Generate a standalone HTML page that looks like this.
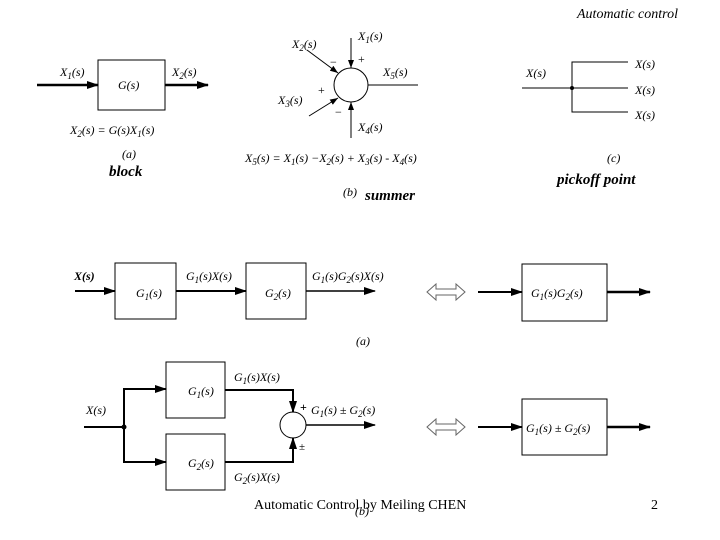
<!DOCTYPE html>
<html><head><meta charset="utf-8"><style>
html,body{margin:0;padding:0;background:#fff}
svg{display:block}
text{font-family:"Liberation Serif",serif;fill:#000}
.m{font-style:italic;font-size:12px}
.b{font-weight:bold;font-style:italic;font-size:15px}
</style></head><body>
<svg width="720" height="540" viewBox="0 0 720 540" xmlns="http://www.w3.org/2000/svg">
<defs>
<marker id="a" markerWidth="12" markerHeight="8" refX="11" refY="4" orient="auto" markerUnits="userSpaceOnUse"><path d="M0,0 L12,4 L0,8 Z"/></marker>
<marker id="s" markerWidth="8" markerHeight="6" refX="8" refY="3" orient="auto" markerUnits="userSpaceOnUse"><path d="M0,0 L8,3 L0,6 Z"/></marker>
</defs>
<text x="577" y="18" style="font-style:italic;font-size:14px">Automatic control</text>
<!-- block -->
<g stroke="#000" fill="none">
<rect x="98" y="60" width="67" height="50" stroke-width="1"/>
<line x1="37" y1="85" x2="98" y2="85" stroke-width="2.5" marker-end="url(#a)"/>
<line x1="165" y1="85" x2="208" y2="85" stroke-width="2.5" marker-end="url(#a)"/>
</g>
<text class="m" x="60" y="76">X<tspan font-size="9" dy="3">1</tspan><tspan dy="-3">(s)</tspan></text>
<text class="m" x="172" y="76">X<tspan font-size="9" dy="3">2</tspan><tspan dy="-3">(s)</tspan></text>
<text class="m" x="118" y="89">G(s)</text>
<text class="m" x="70" y="134">X<tspan font-size="9" dy="3">2</tspan><tspan dy="-3">(s) = G(s)X</tspan><tspan font-size="9" dy="3">1</tspan><tspan dy="-3">(s)</tspan></text>
<text class="m" x="122" y="158">(a)</text>
<text class="b" x="109" y="176">block</text>
<!-- summer -->
<g stroke="#000" fill="none" stroke-width="1">
<circle cx="351" cy="85" r="17"/>
<line x1="351" y1="38" x2="351" y2="68" marker-end="url(#s)"/>
<line x1="368" y1="85" x2="418" y2="85"/>
<line x1="351" y1="138" x2="351" y2="102" marker-end="url(#s)"/>
<line x1="307" y1="50" x2="338" y2="73" marker-end="url(#s)"/>
<line x1="309" y1="116" x2="338" y2="98" marker-end="url(#s)"/>
</g>
<text class="m" x="358" y="40">X<tspan font-size="9" dy="3">1</tspan><tspan dy="-3">(s)</tspan></text>
<text class="m" x="292" y="48">X<tspan font-size="9" dy="3">2</tspan><tspan dy="-3">(s)</tspan></text>
<text class="m" x="383" y="76">X<tspan font-size="9" dy="3">5</tspan><tspan dy="-3">(s)</tspan></text>
<text class="m" x="278" y="104">X<tspan font-size="9" dy="3">3</tspan><tspan dy="-3">(s)</tspan></text>
<text class="m" x="358" y="131">X<tspan font-size="9" dy="3">4</tspan><tspan dy="-3">(s)</tspan></text>
<text x="358" y="63" font-size="12">+</text>
<text x="330" y="66" font-size="12">−</text>
<text x="318" y="94" font-size="12">+</text>
<text x="335" y="116" font-size="12">−</text>
<text class="m" x="245" y="162">X<tspan font-size="9" dy="3">5</tspan><tspan dy="-3">(s) = X</tspan><tspan font-size="9" dy="3">1</tspan><tspan dy="-3">(s) −X</tspan><tspan font-size="9" dy="3">2</tspan><tspan dy="-3">(s) + X</tspan><tspan font-size="9" dy="3">3</tspan><tspan dy="-3">(s) - X</tspan><tspan font-size="9" dy="3">4</tspan><tspan dy="-3">(s)</tspan></text>
<text class="m" x="343" y="196">(b)</text>
<text class="b" x="365" y="200">summer</text>
<!-- pickoff -->
<g stroke="#000" fill="none" stroke-width="1">
<line x1="522" y1="88" x2="628" y2="88"/>
<polyline points="628,62 572,62 572,112 628,112"/>
</g>
<circle cx="572" cy="88" r="2" fill="#000"/>
<text class="m" x="526" y="77">X(s)</text>
<text class="m" x="635" y="68">X(s)</text>
<text class="m" x="635" y="94">X(s)</text>
<text class="m" x="635" y="119">X(s)</text>
<text class="m" x="607" y="162">(c)</text>
<text class="b" x="557" y="184">pickoff point</text>
<!-- series -->
<g stroke="#000" fill="none">
<rect x="115" y="263" width="61" height="56" stroke-width="1"/>
<rect x="246" y="263" width="60" height="56" stroke-width="1"/>
<line x1="75" y1="291" x2="115" y2="291" stroke-width="2" marker-end="url(#a)"/>
<line x1="176" y1="291" x2="246" y2="291" stroke-width="2" marker-end="url(#a)"/>
<line x1="306" y1="291" x2="375" y2="291" stroke-width="1.5" marker-end="url(#a)"/>
<rect x="522" y="264" width="85" height="57" stroke-width="1"/>
<line x1="478" y1="292" x2="522" y2="292" stroke-width="2" marker-end="url(#a)"/>
<line x1="607" y1="292" x2="650" y2="292" stroke-width="2.5" marker-end="url(#a)"/>
<path d="M427,292 L436,284 L436,289 L456,289 L456,284 L465,292 L456,300 L456,295 L436,295 L436,300 Z" stroke-width="1" stroke="#666"/>
<path d="M427,427 L436,419 L436,424 L456,424 L456,419 L465,427 L456,435 L456,430 L436,430 L436,435 Z" stroke-width="1" stroke="#666"/>
</g>
<text class="m" x="74" y="280" font-weight="bold">X(s)</text>
<text class="m" x="136" y="297">G<tspan font-size="9" dy="3">1</tspan><tspan dy="-3">(s)</tspan></text>
<text class="m" x="186" y="280">G<tspan font-size="9" dy="3">1</tspan><tspan dy="-3">(s)X(s)</tspan></text>
<text class="m" x="265" y="297">G<tspan font-size="9" dy="3">2</tspan><tspan dy="-3">(s)</tspan></text>
<text class="m" x="312" y="280">G<tspan font-size="9" dy="3">1</tspan><tspan dy="-3">(s)G</tspan><tspan font-size="9" dy="3">2</tspan><tspan dy="-3">(s)X(s)</tspan></text>
<text class="m" x="531" y="297">G<tspan font-size="9" dy="3">1</tspan><tspan dy="-3">(s)G</tspan><tspan font-size="9" dy="3">2</tspan><tspan dy="-3">(s)</tspan></text>
<text class="m" x="356" y="345">(a)</text>
<!-- parallel -->
<g stroke="#000" fill="none">
<rect x="166" y="362" width="59" height="56" stroke-width="1"/>
<rect x="166" y="434" width="59" height="56" stroke-width="1"/>
<line x1="84" y1="427" x2="124" y2="427" stroke-width="2"/>
<polyline points="166,389 124,389 124,462 166,462" stroke-width="2"/>
<line x1="150" y1="389" x2="166" y2="389" stroke-width="2" marker-end="url(#a)"/>
<line x1="150" y1="462" x2="166" y2="462" stroke-width="2" marker-end="url(#a)"/>
<polyline points="225,390 293,390 293,412" stroke-width="2" marker-end="url(#a)"/>
<polyline points="225,462 293,462 293,438" stroke-width="2" marker-end="url(#a)"/>
<circle cx="293" cy="425" r="13" stroke-width="1"/>
<line x1="306" y1="425" x2="375" y2="425" stroke-width="1.5" marker-end="url(#a)"/>
<rect x="522" y="399" width="85" height="56" stroke-width="1"/>
<line x1="478" y1="427" x2="522" y2="427" stroke-width="2" marker-end="url(#a)"/>
<line x1="607" y1="427" x2="650" y2="427" stroke-width="2.5" marker-end="url(#a)"/>
</g>
<circle cx="124" cy="427" r="2.5" fill="#000"/>
<text class="m" x="86" y="414">X(s)</text>
<text class="m" x="188" y="395">G<tspan font-size="9" dy="3">1</tspan><tspan dy="-3">(s)</tspan></text>
<text class="m" x="188" y="467">G<tspan font-size="9" dy="3">2</tspan><tspan dy="-3">(s)</tspan></text>
<text class="m" x="234" y="381">G<tspan font-size="9" dy="3">1</tspan><tspan dy="-3">(s)X(s)</tspan></text>
<text class="m" x="234" y="481">G<tspan font-size="9" dy="3">2</tspan><tspan dy="-3">(s)X(s)</tspan></text>
<text x="300" y="411" font-size="12" font-weight="bold">+</text>
<text class="m" x="311" y="414">G<tspan font-size="9" dy="3">1</tspan><tspan dy="-3">(s) ± G</tspan><tspan font-size="9" dy="3">2</tspan><tspan dy="-3">(s)</tspan></text>
<text x="299" y="450" font-size="11">±</text>
<text class="m" x="526" y="432">G<tspan font-size="9" dy="3">1</tspan><tspan dy="-3">(s) ± G</tspan><tspan font-size="9" dy="3">2</tspan><tspan dy="-3">(s)</tspan></text>
<text class="m" x="355" y="515">(b)</text>
<text x="254" y="509" font-size="14">Automatic Control by Meiling CHEN</text>
<text x="651" y="509" font-size="14">2</text>
</svg>
</body></html>
